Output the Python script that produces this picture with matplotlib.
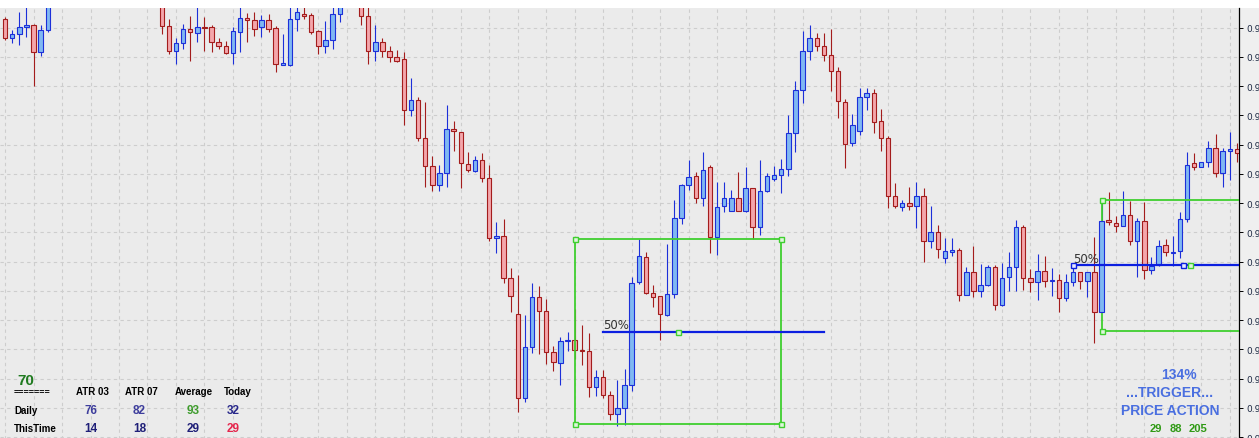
import matplotlib.pyplot as plt
from matplotlib.patches import Rectangle
import numpy as np

# ----------------------------------------------------------------------------------------------------------------------
#  DATA  (prices in points of 1e-5 above 0.95100)
# ----------------------------------------------------------------------------------------------------------------------
open_ = [429, 409, 413, 421, 423, 395, 417, 449, 458, 466, 459, 474, 481, 473, 466, 479, 475, 464, 469, 461,
         456, 452, 447, 422, 396, 404, 418, 414, 421, 421, 405, 401, 394, 415, 430, 428, 421, 428, 419, 382,
         382, 429, 434, 433, 416, 401, 407, 434, 442, 451, 447, 432, 396, 405, 396, 390, 388, 335, 346, 307,
         278, 258, 271, 316, 313, 280, 273, 284, 266, 204, 206, 163, 126, 40, 92, 144, 129, 87, 76, 98,
         100, 89, 88, 51, 62, 43, 24, 30, 53, 159, 185, 148, 145, 125, 147, 225, 258, 268, 245, 277,
         205, 237, 232, 245, 232, 255, 215, 252, 265, 269, 275, 312, 356, 396, 409, 401, 392, 375, 344, 302,
         314, 349, 353, 324, 307, 247, 236, 240, 237, 247, 201, 210, 184, 190, 192, 146, 169, 150, 156, 174,
         135, 164, 174, 215, 163, 159, 170, 160, 161, 143, 159, 169, 160, 169, 128, 223, 219, 216, 228, 201,
         222, 171, 176, 197, 189, 191, 224, 281, 277, 282, 296, 271, 293, 295]
high = [431, 417, 436, 444, 424, 423, 454, 462, 470, 474, 478, 486, 490, 480, 484, 488, 479, 472, 474, 468,
        463, 458, 452, 429, 409, 424, 432, 444, 431, 423, 409, 406, 421, 444, 435, 436, 433, 434, 422, 413,
        441, 443, 441, 435, 417, 427, 441, 446, 455, 458, 452, 442, 423, 409, 401, 397, 395, 368, 349, 344,
        288, 279, 341, 324, 313, 292, 288, 291, 279, 221, 224, 173, 166, 125, 158, 155, 142, 93, 103, 108,
        131, 115, 107, 69, 69, 47, 58, 70, 164, 203, 190, 156, 145, 198, 243, 259, 284, 272, 292, 279,
        262, 262, 253, 272, 277, 255, 284, 271, 278, 285, 330, 365, 416, 423, 414, 414, 418, 379, 347, 331,
        358, 358, 357, 336, 309, 261, 243, 256, 262, 255, 237, 217, 204, 204, 194, 174, 196, 177, 176, 176,
        178, 190, 223, 217, 172, 188, 186, 173, 167, 167, 177, 169, 169, 205, 242, 251, 227, 252, 242, 225,
        241, 185, 202, 203, 206, 231, 292, 291, 282, 304, 311, 296, 313, 302]
low = [407, 404, 402, 410, 360, 391, 415, 444, 452, 455, 456, 468, 470, 462, 464, 471, 461, 455, 458, 452,
       447, 444, 413, 393, 383, 398, 386, 405, 396, 395, 398, 393, 383, 395, 405, 411, 410, 415, 374, 382,
       381, 416, 429, 413, 393, 394, 398, 426, 441, 443, 423, 383, 386, 390, 385, 385, 320, 329, 304, 256,
       252, 252, 256, 293, 255, 272, 272, 262, 201, 189, 158, 128, 26, 36, 86, 85, 75, 68, 53, 88,
       80, 74, 41, 42, 40, 17, 11, 12, 47, 157, 147, 133, 99, 124, 143, 218, 253, 240, 237, 189,
       187, 231, 232, 232, 231, 203, 207, 251, 263, 250, 268, 292, 343, 387, 396, 386, 355, 327, 276, 298,
       310, 335, 312, 293, 235, 235, 232, 233, 214, 179, 194, 184, 178, 186, 139, 146, 144, 144, 155, 130,
       134, 150, 150, 151, 149, 141, 154, 145, 128, 139, 155, 152, 144, 96, 128, 217, 210, 216, 197, 164,
       162, 167, 175, 186, 175, 184, 221, 274, 277, 277, 267, 256, 264, 282]
close = [409, 413, 421, 423, 395, 417, 449, 458, 466, 459, 474, 481, 473, 466, 479, 475, 464, 469, 461, 456,
         452, 447, 422, 396, 404, 418, 415, 421, 419, 405, 401, 394, 416, 430, 428, 418, 428, 418, 383, 384,
         429, 436, 432, 415, 401, 407, 434, 442, 451, 447, 432, 396, 405, 396, 390, 386, 335, 346, 307, 278,
         258, 271, 316, 314, 281, 274, 284, 266, 204, 206, 163, 145, 40, 92, 144, 129, 87, 77, 98, 100,
         89, 88, 51, 62, 43, 24, 30, 53, 158, 186, 148, 144, 126, 147, 225, 258, 267, 245, 274, 205,
         236, 245, 245, 232, 255, 215, 252, 268, 269, 275, 312, 356, 396, 409, 401, 392, 375, 345, 301, 320,
         349, 353, 323, 307, 247, 237, 240, 237, 247, 201, 210, 193, 191, 192, 146, 169, 150, 156, 174, 135,
         163, 174, 215, 163, 159, 170, 160, 161, 143, 159, 169, 160, 169, 128, 222, 221, 216, 228, 201, 222,
         171, 175, 196, 190, 190, 224, 279, 277, 282, 296, 271, 293, 295, 291]

base_price = 0.95100
tick_step = 30

# range boxes: (first bar, last bar, top, bottom)
box_left, box_right, box_top, box_bottom = 80, 109, 203, 13
box_mid_x = 94.5
fib1_start, fib1_end = 84, 115
zone_left, zone_top, zone_bottom = 154, 243, 109
fib2_start, fib2_handle, fib2_end = 150, 165.4, 166.4

# ATR panel
atr_headers = ['ATR 03', 'ATR 07', 'Average', 'Today']
atr_rows = ['Daily', 'ThisTime']
atr_daily = ['76', '82', '93', '32']
atr_thistime = ['14', '18', '29', '29']
atr_daily_colors = ['#3d3d9c', '#3d3d9c', '#3f9c2e', '#27278a']
atr_thistime_colors = ['#1f1f78', '#1f1f78', '#1f1f78', '#e5264c']
trigger_counts = ['29', '88', '205']

# ----------------------------------------------------------------------------------------------------------------------
#  PLOT
# ----------------------------------------------------------------------------------------------------------------------
W, H = 1259, 439
fig = plt.figure(figsize=(W / 100, H / 100), dpi=100, facecolor='white')

# light panel behind the price scale
fig.patches.append(Rectangle((1239 / W, 0), 20 / W, 1 - 9 / H, transform=fig.transFigure,
                             facecolor='#efefef', edgecolor='none', zorder=-5))

ax = fig.add_axes([0, -21 / H, 1239 / W, 451 / H])
ax.set_zorder(1)
ax.set_facecolor('#ebebeb')

o = np.array(open_, dtype=float)
h = np.array(high, dtype=float)
l = np.array(low, dtype=float)
c = np.array(close, dtype=float)
x = np.arange(len(o))
up = c >= o

blue_edge, blue_fill = '#1c2fd9', '#80b8f2'
red_edge, red_fill = '#a31c1c', '#f4a6ab'

wick_colors = np.where(up, blue_edge, red_edge)
ax.vlines(x, l, h, colors=wick_colors, linewidth=0.8, zorder=2)

body = np.abs(c - o)
body = np.where(body < 1.2, 1.2, body)
bottom = np.minimum(o, c)
ax.bar(x[up], body[up], bottom=bottom[up], width=0.62, color=blue_fill,
       edgecolor=blue_edge, linewidth=0.8, zorder=3)
ax.bar(x[~up], body[~up], bottom=bottom[~up], width=0.62, color=red_fill,
       edgecolor=red_edge, linewidth=0.8, zorder=3)

# range box with its 50% line
green = '#3fcf2f'
line_blue = '#0c1fe0'
ax.plot([box_left, box_right, box_right, box_left, box_left],
        [box_top, box_top, box_bottom, box_bottom, box_top], color=green, linewidth=1.3, zorder=4)
mid1 = (box_top + box_bottom) / 2
ax.plot([fib1_start, fib1_end], [mid1, mid1], color=line_blue, linewidth=1.6, zorder=4)
ax.plot([box_left, box_right, box_right, box_left], [box_top, box_top, box_bottom, box_bottom],
        linestyle='none', marker='s', markersize=3.6, markerfacecolor='#dff5dc',
        markeredgecolor=green, markeredgewidth=1, zorder=5)
ax.plot([box_mid_x], [mid1], linestyle='none', marker='s', markersize=3.6,
        markerfacecolor='#dff5dc', markeredgecolor=green, markeredgewidth=1, zorder=5)
ax.text(fib1_start, mid1 + 3.5, '50%', fontsize=8.5, color='#333333', va='baseline', ha='left',
        family='DejaVu Sans', zorder=6)

# open zone on the right
x_end = 175
ax.plot([zone_left, x_end], [zone_top, zone_top], color=green, linewidth=1.3, zorder=4)
ax.plot([zone_left, x_end], [zone_bottom, zone_bottom], color=green, linewidth=1.3, zorder=4)
ax.plot([zone_left, zone_left], [zone_bottom, zone_top], color=green, linewidth=1.3, zorder=2.5)
mid2 = (zone_top + zone_bottom) / 2
ax.plot([fib2_start, x_end], [mid2, mid2], color=line_blue, linewidth=1.6, zorder=4)
ax.plot([zone_left, zone_left], [zone_top, zone_bottom], linestyle='none', marker='s', markersize=3.6,
        markerfacecolor='#dff5dc', markeredgecolor=green, markeredgewidth=1, zorder=5)
ax.plot([fib2_start, fib2_handle], [mid2, mid2], linestyle='none', marker='s', markersize=3.6,
        markerfacecolor='#e6e8ff', markeredgecolor=line_blue, markeredgewidth=1, zorder=5)
ax.plot([fib2_end], [mid2], linestyle='none', marker='s', markersize=3.6,
        markerfacecolor='#dff5dc', markeredgecolor=green, markeredgewidth=1, zorder=5)
ax.text(fib2_start, mid2 + 3.5, '50%', fontsize=8.5, color='#333333', va='baseline', ha='left',
        family='DejaVu Sans', zorder=6)

# axes, ticks and grid
ax.set_xlim(-0.716, 173.3)
ax.set_ylim(-22.56, 440.0)
ax.set_xticks(np.arange(0, 174, 4))
yt = np.arange(0, 421, tick_step)
ax.set_yticks(yt)
ax.set_yticklabels(['%.5f' % (base_price + v * 1e-5) for v in yt])
ax.yaxis.tick_right()
ax.tick_params(axis='x', length=0, labelbottom=False)
ax.tick_params(axis='y', length=3, width=0.7, pad=2.5, labelsize=6.5, labelcolor='#1f2a44')
for s in ['left', 'top', 'bottom']:
    ax.spines[s].set_visible(False)
ax.spines['right'].set_linewidth(0.9)
ax.grid(True, color='#cdcdcd', linestyle=(0, (3, 3)), linewidth=0.8)
ax.set_axisbelow(True)


def fx(px):
    return px / W


def fy(py):
    return 1 - py / H


# ATR panel, bottom left
txt = dict(family='Liberation Sans', fontweight='bold', zorder=10)
fig.text(fx(25.5), fy(381.5), '70', fontsize=11, color='#1f7a1f', ha='center', va='center', **txt)
fig.text(fx(14), fy(392), '=======', fontsize=6.5, color='black', ha='left', va='center', **txt)
header_x = [92.5, 141.5, 194, 237.5]
value_x = [91, 139.5, 193, 233]
for hx, lab in zip(header_x, atr_headers):
    fig.text(fx(hx), fy(392), lab, fontsize=7, color='black', ha='center', va='center', **txt)
fig.text(fx(14), fy(411), atr_rows[0], fontsize=7, color='black', ha='left', va='center', **txt)
fig.text(fx(14), fy(429), atr_rows[1], fontsize=7, color='black', ha='left', va='center', **txt)
for vx, lab, col in zip(value_x, atr_daily, atr_daily_colors):
    fig.text(fx(vx), fy(411), lab, fontsize=8.5, color=col, ha='center', va='center', **txt)
for vx, lab, col in zip(value_x, atr_thistime, atr_thistime_colors):
    fig.text(fx(vx), fy(429), lab, fontsize=8.5, color=col, ha='center', va='center', **txt)

# trigger panel, bottom right
trig_blue = '#4a6fe0'
fig.text(fx(1179), fy(375), '134%', fontsize=10, color=trig_blue, ha='center', va='center', **txt)
fig.text(fx(1170), fy(393), '...TRIGGER...', fontsize=10, color=trig_blue, ha='center', va='center', **txt)
fig.text(fx(1170.7), fy(410.7), 'PRICE ACTION', fontsize=10, color=trig_blue, ha='center', va='center', **txt)
for tx, lab in zip([1156, 1176, 1198], trigger_counts):
    fig.text(fx(tx), fy(429), lab, fontsize=8, color='#2f9a14', ha='center', va='center', **txt)

fig.savefig('out.png', dpi=100, facecolor='white')
